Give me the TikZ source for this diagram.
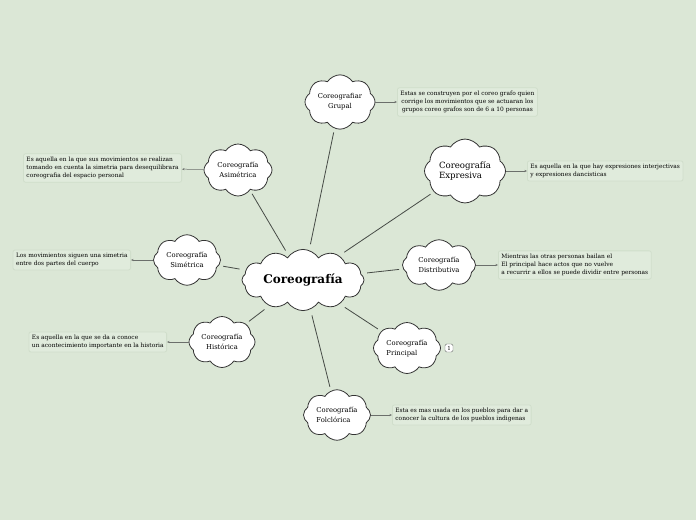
\documentclass[tikz,border=0pt]{standalone}
\usepackage{fontspec}
\setmainfont{DejaVu Serif}
\usetikzlibrary{shapes.symbols,arrows.meta}
\definecolor{bg}{RGB}{219,231,214}
\definecolor{boxbg}{RGB}{224,235,220}
\definecolor{boxln}{RGB}{208,222,203}
\definecolor{ln}{RGB}{70,75,70}
\tikzset{
  cl/.style={cloud, cloud puffs=8, cloud puff arc=115, aspect=1.4, draw=black!80, line width=0.8pt, fill=white, align=center, inner sep=0pt, font=\fontsize{6.8}{10}\selectfont},
  desc/.style={draw=boxln, fill=boxbg, rounded corners=2pt, line width=0.8pt, inner sep=3pt, align=left, font=\fontsize{5.9}{8.3}\selectfont},
  conn/.style={draw=ln, line width=0.8pt, shorten <=6pt, shorten >=4pt},
  arr/.style={draw=ln!80, line width=0.5pt, -{Stealth[length=2.5pt,width=2pt]}}
}
\begin{document}
\begin{tikzpicture}[x=1pt,y=-1pt]
\fill[bg] (0,0) rectangle (696,520);
\useasboundingbox (0,0) rectangle (696,520);

\node[cl, minimum width=122pt, minimum height=50pt, aspect=2.4, cloud puffs=12, font=\fontsize{12}{14}\selectfont\bfseries] (c) at (303,280) {Coreografía};

\node[cl, minimum width=70pt, minimum height=50pt] (gru) at (340,102) {Coreografiar\\Grupal};
\node[cl, minimum width=68pt, minimum height=52pt] (asi) at (238,170) {Coreografía\\Asimétrica};
\node[cl, minimum width=67pt, minimum height=50pt] (sim) at (187,260) {Coreografía\\Simétrica};
\node[cl, minimum width=66pt, minimum height=51pt] (his) at (222,342) {Coreografía\\Histórica};
\node[cl, minimum width=81pt, minimum height=48pt, font=\fontsize{8.6}{9.3}\selectfont, align=left] (exp) at (465,171) {Coreografía\\Expresiva};
\node[cl, minimum width=73pt, minimum height=50pt] (dis) at (439,265) {Coreografía\\Distributiva};
\node[cl, minimum width=67pt, minimum height=51pt, align=left] (pri) at (407,348) {Coreografía\\Principal};
\node[cl, minimum width=67pt, minimum height=50pt, align=left] (fol) at (337,415) {Coreografía\\Folclórica};

\node[desc, align=center, anchor=west] (dgru) at (397,102) {Estas se construyen por el coreo grafo quien\\corrige los movimientos que se actuaran los\\grupos coreo grafos son de 6 a 10 personas};
\node[desc, anchor=east] (dasi) at (182,168) {Es aquella en la que sus movimientos se realizan\\tomando en cuenta la simetria para desequilibrara\\coreografia del espacio personal};
\node[desc, anchor=east] (dsim) at (131,260) {Los movimientos siguen una simetria\\entre dos partes del cuerpo};
\node[desc, anchor=east] (dhis) at (167,342) {Es aquella en la que se da a conoce\\un acontecimiento importante en la historia};
\node[desc, anchor=west] (dexp) at (527,171) {Es aquella en la que hay expresiones interjectivas\\y expresiones dancisticas};
\node[desc, anchor=west] (ddis) at (498,265) {Mientras las otras personas bailan el\\El principal hace actos que no vuelve\\a recurrir a ellos se puede dividir entre personas};
\node[desc, anchor=west] (dfol) at (392,415) {Esta es mas usada en los pueblos para  dar a\\conocer la  cultura de los pueblos indigenas};
\node[draw=ln!80, fill=white, rounded corners=1.5pt, inner sep=1.2pt, minimum width=8pt, minimum height=8pt, font=\fontsize{5.5}{6}\selectfont] (one) at (449,348) {1};

\foreach \n in {gru,asi,sim,his,exp,dis,pri,fol} \draw[conn] (c) -- (\n);

\draw[arr] (gru) -- (dgru);
\draw[arr] (asi) -- (dasi);
\draw[arr] (sim) -- (dsim);
\draw[arr] (his) -- (dhis);
\draw[arr] (exp) -- (dexp);
\draw[arr] (dis) -- (ddis);
\draw[arr] (fol) -- (dfol);
\end{tikzpicture}
\end{document}
